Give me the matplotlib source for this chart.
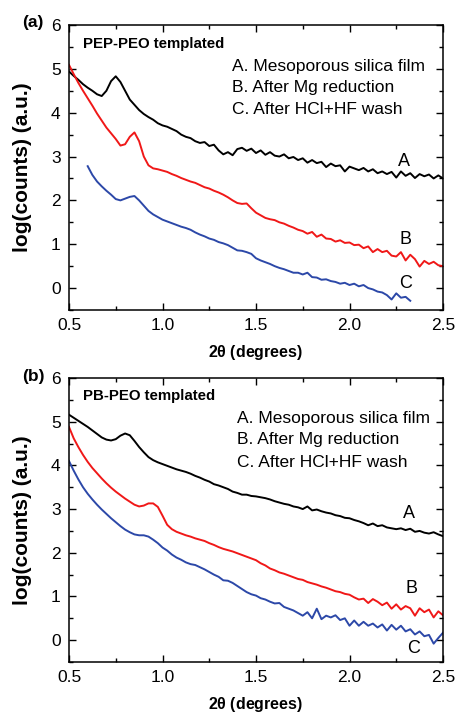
import numpy as np
import matplotlib
matplotlib.use("Agg")
import matplotlib.pyplot as plt
from matplotlib.ticker import MultipleLocator, FormatStrFormatter

plt.rcParams['font.family'] = ['Liberation Sans', 'DejaVu Sans']

# 2theta grid (degrees)
two_theta = [0.500, 0.525, 0.550, 0.575, 0.600, 0.625, 0.650, 0.675, 0.700, 0.725,
             0.750, 0.775, 0.800, 0.825, 0.850, 0.875, 0.900, 0.925, 0.950, 0.975,
             1.000, 1.025, 1.050, 1.075, 1.100, 1.125, 1.150, 1.175, 1.200, 1.225,
             1.250, 1.275, 1.300, 1.325, 1.350, 1.375, 1.400, 1.425, 1.450, 1.475,
             1.500, 1.525, 1.550, 1.575, 1.600, 1.625, 1.650, 1.675, 1.700, 1.725,
             1.750, 1.775, 1.800, 1.825, 1.850, 1.875, 1.900, 1.925, 1.950, 1.975,
             2.000, 2.025, 2.050, 2.075, 2.100, 2.125, 2.150, 2.175, 2.200, 2.225,
             2.250, 2.275, 2.300, 2.325, 2.350, 2.375, 2.400, 2.425, 2.450, 2.475,
             2.500]

# panel (a) PEP-PEO templated
a_film = [4.94, 4.84, 4.75, 4.65, 4.57, 4.50, 4.42, 4.38, 4.50, 4.72,
          4.83, 4.70, 4.50, 4.30, 4.18, 4.06, 3.97, 3.90, 3.84, 3.76,
          3.71, 3.68, 3.63, 3.58, 3.50, 3.45, 3.42, 3.35, 3.31, 3.33,
          3.24, 3.27, 3.14, 3.05, 3.10, 3.03, 3.17, 3.20, 3.13, 3.18,
          3.08, 3.14, 3.04, 3.10, 3.02, 3.00, 3.05, 2.96, 2.99, 2.92,
          2.96, 2.86, 2.92, 2.85, 2.88, 2.76, 2.84, 2.78, 2.80, 2.66,
          2.77, 2.73, 2.69, 2.74, 2.66, 2.71, 2.62, 2.66, 2.60, 2.65,
          2.52, 2.66, 2.56, 2.62, 2.51, 2.60, 2.55, 2.59, 2.50, 2.57,
          2.50]
a_mg = [5.09, 4.88, 4.68, 4.50, 4.33, 4.16, 3.98, 3.82, 3.66, 3.53,
        3.40, 3.25, 3.28, 3.45, 3.55, 3.35, 3.00, 2.80, 2.73, 2.71,
        2.68, 2.65, 2.60, 2.56, 2.51, 2.47, 2.43, 2.40, 2.35, 2.30,
        2.27, 2.22, 2.18, 2.13, 2.07, 2.00, 1.94, 1.92, 1.93, 1.82,
        1.72, 1.66, 1.60, 1.57, 1.55, 1.50, 1.47, 1.42, 1.38, 1.33,
        1.30, 1.24, 1.28, 1.17, 1.22, 1.13, 1.12, 1.06, 1.09, 1.03,
        1.04, 0.98, 0.99, 0.91, 0.95, 0.82, 0.89, 0.82, 0.85, 0.74,
        0.72, 0.82, 0.63, 0.76, 0.66, 0.49, 0.62, 0.55, 0.60, 0.52,
        0.50]
a_wash_x = two_theta[4:74]
a_wash = [2.78, 2.58, 2.43, 2.32, 2.22, 2.13, 2.03, 2.00, 2.04, 2.08,
          2.10, 2.00, 1.88, 1.76, 1.68, 1.62, 1.56, 1.52, 1.48, 1.44,
          1.40, 1.37, 1.33, 1.27, 1.22, 1.18, 1.13, 1.10, 1.05, 1.02,
          0.98, 0.92, 0.86, 0.85, 0.82, 0.78, 0.68, 0.63, 0.59, 0.55,
          0.50, 0.46, 0.43, 0.39, 0.35, 0.35, 0.31, 0.35, 0.25, 0.24,
          0.19, 0.20, 0.16, 0.14, 0.10, 0.12, 0.07, 0.10, 0.04, 0.07,
          0.00, -0.03, -0.08, -0.10, -0.16, -0.26, -0.12, -0.22, -0.20, -0.29]

# panel (b) PB-PEO templated
b_film = [5.16, 5.09, 5.02, 4.95, 4.88, 4.80, 4.72, 4.64, 4.59, 4.57,
          4.60, 4.68, 4.73, 4.69, 4.56, 4.42, 4.30, 4.19, 4.12, 4.07,
          4.03, 3.99, 3.95, 3.91, 3.88, 3.85, 3.81, 3.76, 3.72, 3.67,
          3.63, 3.57, 3.54, 3.50, 3.46, 3.40, 3.37, 3.33, 3.33, 3.30,
          3.29, 3.27, 3.25, 3.22, 3.18, 3.15, 3.12, 3.10, 3.06, 3.04,
          3.00, 3.06, 2.97, 2.99, 2.95, 2.92, 2.90, 2.86, 2.84, 2.80,
          2.79, 2.75, 2.72, 2.68, 2.63, 2.67, 2.61, 2.63, 2.58, 2.56,
          2.54, 2.56, 2.52, 2.55, 2.48, 2.50, 2.46, 2.44, 2.47, 2.42,
          2.38]
b_mg = [4.88, 4.62, 4.42, 4.24, 4.08, 3.94, 3.82, 3.70, 3.59, 3.49,
        3.40, 3.32, 3.24, 3.17, 3.10, 3.06, 3.08, 3.13, 3.13, 3.05,
        2.85, 2.64, 2.54, 2.48, 2.44, 2.40, 2.37, 2.33, 2.30, 2.27,
        2.22, 2.18, 2.13, 2.09, 2.06, 2.03, 1.99, 1.95, 1.91, 1.87,
        1.83, 1.76, 1.71, 1.64, 1.60, 1.55, 1.52, 1.48, 1.44, 1.40,
        1.38, 1.33, 1.30, 1.27, 1.23, 1.20, 1.16, 1.12, 1.10, 1.06,
        1.04, 0.98, 0.93, 0.95, 0.85, 0.94, 0.88, 0.80, 0.86, 0.72,
        0.82, 0.70, 0.78, 0.73, 0.56, 0.73, 0.64, 0.70, 0.52, 0.66,
        0.57]
b_wash = [4.10, 3.88, 3.68, 3.50, 3.35, 3.22, 3.10, 2.99, 2.89, 2.79,
          2.70, 2.61, 2.53, 2.47, 2.42, 2.40, 2.40, 2.37, 2.30, 2.22,
          2.12, 2.05, 1.96, 1.89, 1.84, 1.78, 1.74, 1.72, 1.67, 1.62,
          1.56, 1.50, 1.45, 1.37, 1.36, 1.31, 1.24, 1.17, 1.10, 1.05,
          1.02, 0.96, 0.93, 0.88, 0.84, 0.85, 0.76, 0.72, 0.68, 0.62,
          0.56, 0.64, 0.50, 0.72, 0.48, 0.56, 0.52, 0.57, 0.46, 0.50,
          0.33, 0.45, 0.33, 0.42, 0.33, 0.38, 0.29, 0.36, 0.22, 0.35,
          0.24, 0.33, 0.20, 0.25, 0.13, 0.20, 0.09, 0.12, -0.08, 0.05,
          0.17]

legend_lines = ["A. Mesoporous silica film", "B. After Mg reduction", "C. After HCl+HF wash"]
colors = ['black', '#f01818', '#2c48a8']

W, H = 457, 715
fig = plt.figure(figsize=(W / 100, H / 100), dpi=100)


def panel(rect, tag, title, curves, lab_pos, leg_x, leg_y):
    ax = fig.add_axes(rect)
    for (x, y), c in zip(curves, colors):
        ax.plot(x, y, color=c, lw=1.4)
    ax.set_xlim(0.5, 2.5)
    ax.set_ylim(-0.5, 6)
    ax.xaxis.set_major_locator(MultipleLocator(0.5))
    ax.xaxis.set_minor_locator(MultipleLocator(0.25))
    ax.xaxis.set_major_formatter(FormatStrFormatter('%.1f'))
    ax.yaxis.set_major_locator(MultipleLocator(1))
    ax.yaxis.set_minor_locator(MultipleLocator(0.5))
    ax.tick_params(which='both', direction='in', top=True, right=True,
                   labelsize=12.5, pad=6)
    ax.tick_params(which='major', length=5, width=1)
    ax.tick_params(which='minor', length=3, width=1)
    for s in ax.spines.values():
        s.set_linewidth(1.1)
    ax.set_xlabel(r'2$\mathregular{\theta}$ (degrees)', fontsize=11.5,
                  fontweight='bold', labelpad=7)
    ax.set_ylabel('log(counts) (a.u.)', fontsize=15, fontweight='bold')
    ax.yaxis.set_label_coords(-0.1, 0.5)
    ax.text(0.037, 0.935, title, transform=ax.transAxes, fontsize=10.8,
            fontweight='bold', va='center', ha='left')
    for t, yy in zip(legend_lines, leg_y):
        ax.text(leg_x, yy, t, transform=ax.transAxes, fontsize=12.5,
                va='center', ha='left')
    for letter, (px, py) in zip('ABC', lab_pos):
        ax.text(px, py, letter, fontsize=13, ha='center', va='center')
    fig.text(22 / W, tag[1], tag[0], fontsize=12.5, fontweight='bold',
             ha='left', va='center')
    return ax


panel([69 / W, 1 - 310 / H, 374 / W, 285 / H], ('(a)', 1 - 23 / H),
      'PEP-PEO templated',
      [(two_theta, a_film), (two_theta, a_mg), (a_wash_x, a_wash)],
      [(2.29, 2.88), (2.30, 1.11), (2.30, 0.11)],
      0.436, [0.853, 0.779, 0.705])

panel([69 / W, 1 - 662 / H, 374 / W, 284 / H], ('(b)', 1 - 377 / H),
      'PB-PEO templated',
      [(two_theta, b_film), (two_theta, b_mg), (two_theta, b_wash)],
      [(2.32, 2.90), (2.33, 1.18), (2.34, -0.19)],
      0.449, [0.859, 0.782, 0.704])

fig.savefig('out.png', dpi=100)
